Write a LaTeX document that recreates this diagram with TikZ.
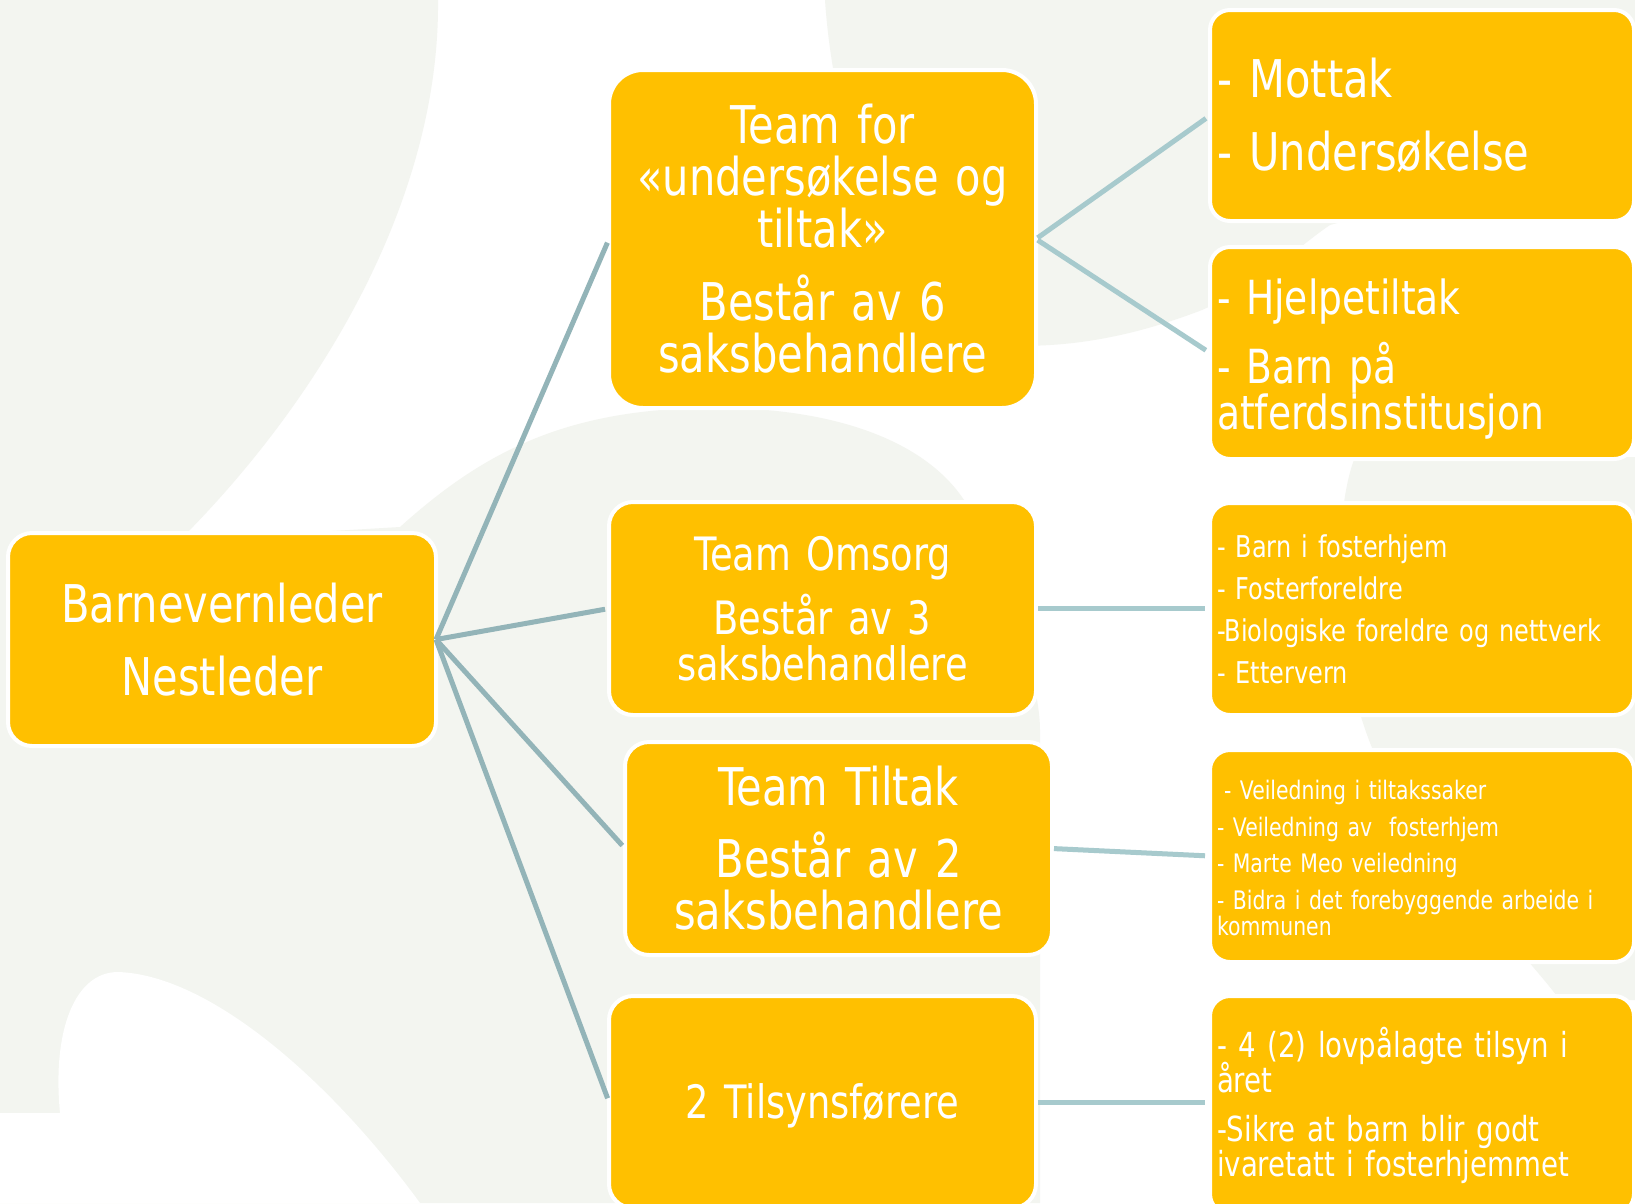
\documentclass[tikz,border=0pt]{standalone}
\usepackage{fontspec}
\setmainfont{DejaVu Sans}[FakeStretch=0.8]
\definecolor{boxyellow}{HTML}{FFC000}
\definecolor{bggray}{HTML}{F3F5F0}
\definecolor{lineL}{HTML}{93B4B8}
\definecolor{lineR}{HTML}{A7CACD}
\tikzset{
  box/.style={rectangle, rounded corners=#1, fill=boxyellow, draw=white,
    line width=4pt, text=white, inner xsep=6pt, inner ysep=0pt, outer sep=0pt,
    execute at begin node={\lineskiplimit=-100pt\lineskip=0pt}},
  box/.default=22pt,
  teambox/.style={box=#1, align=center, minimum width=427pt, text width=412pt},
  teambox/.default=24pt,
  infobox/.style={box=20pt, align=left, minimum width=424pt, text width=410pt},
  leftline/.style={draw=lineL, line width=5pt, shorten >=4pt},
  rightline/.style={draw=lineR, line width=5pt, shorten <=2pt, shorten >=5pt},
}
\begin{document}
\begin{tikzpicture}[x=1pt,y=-1pt]
\useasboundingbox (0,0) rectangle (1635,1203);
% background
\fill[white] (0,0) rectangle (1635,1203);
\fill[bggray] (0,0) -- (438,0) .. controls (440,200) and (320,400) .. (180,540) -- (0,540) -- cycle;
\fill[bggray] (0,540) -- (180,540) -- (400,527) .. controls (480,455) and (560,411) .. (700,408)
  .. controls (840,405) and (935,445) .. (970,510) .. controls (1005,580) and (1040,680) .. (1040,730)
  -- (1040,1203) -- (0,1203) -- cycle;
\fill[white] (0,1113) -- (60,1113) .. controls (52,1030) and (75,972) .. (118,972)
  .. controls (210,975) and (330,1080) .. (420,1203) -- (0,1203) -- cycle;
\fill[bggray] (825,0) .. controls (835,150) and (900,330) .. (1000,345)
  .. controls (1080,350) and (1150,330) .. (1202,310)
  .. controls (1260,285) and (1300,245) .. (1330,225)
  .. controls (1420,200) and (1530,190) .. (1635,190) -- (1635,0) -- cycle;
\fill[bggray] (1355,457) .. controls (1330,520) and (1330,700) .. (1400,800)
  .. controls (1470,900) and (1530,960) .. (1560,1000) -- (1635,1000) -- (1635,457) -- cycle;

% left node
\node[teambox=24pt, minimum width=428pt, minimum height=213pt, font=\fontsize{52}{73}\selectfont]
  (lead) at (222,639.5) {Barnevernleder\\Nestleder};

% teams
\node[teambox=34pt, minimum height=338pt, font=\fontsize{52}{52}\selectfont]
  (t1) at (822.5,239) {Team for\\«undersøkelse og\\tiltak»\\[21pt]Består av 6\\saksbehandlere};
\node[teambox, minimum height=213pt, font=\fontsize{46}{46}\selectfont]
  (t2) at (822.5,608.5) {Team Omsorg\\[18pt]Består av 3\\saksbehandlere};
\node[teambox, minimum height=213pt, font=\fontsize{52}{52}\selectfont]
  (t3) at (838.5,848.5) {Team Tiltak\\[20pt]Består av 2\\saksbehandlere};
\node[teambox, minimum height=212pt, font=\fontsize{46}{46}\selectfont]
  (t4) at (822.5,1102) {\rule{0pt}{43pt}2 Tilsynsførere};

% info boxes
\node[infobox, minimum height=211pt, font=\fontsize{52}{73}\selectfont]
  (r1) at (1422,115.5) {- Mottak\\- Undersøkelse};
\node[infobox, minimum height=212pt, font=\fontsize{47}{46}\selectfont]
  (r2) at (1422,353) {\rule{0pt}{48pt}- Hjelpetiltak\\[23pt]- Barn på\\atferdsinstitusjon};
\node[infobox, minimum height=212pt, font=\fontsize{30}{42}\selectfont]
  (r3) at (1422,609) {- Barn i fosterhjem\\- Fosterforeldre\\-Biologiske foreldre og nettverk\\- Ettervern};
\node[infobox, minimum height=212pt, font=\fontsize{25.5}{26}\selectfont]
  (r4) at (1422,856) {\rule{0pt}{23.5pt}\hspace*{7pt}- Veiledning i tiltakssaker\\[10.5pt]- Veiledning av\ \ fosterhjem\\[10.5pt]- Marte Meo veiledning\\[10.5pt]- Bidra i det forebyggende arbeide i\\kommunen};
\node[infobox, minimum height=218pt, font=\fontsize{34.5}{35}\selectfont]
  (r5) at (1422,1105) {\rule{0pt}{30pt}- 4 (2) lovpålagte tilsyn i\\året\\[14pt]-Sikre at barn blir godt\\ivaretatt i fosterhjemmet};

% connectors
\draw[leftline] (lead.east) -- (t1.west);
\draw[leftline] (lead.east) -- (t2.west);
\draw[leftline] (lead.east) -- (t3.west);
\draw[leftline] (lead.east) -- (t4.west);
\draw[rightline] (t1.east) -- (r1.west);
\draw[rightline] (t1.east) -- (r2.west);
\draw[rightline] (t2.east) -- (t2.east -| r3.west);
\draw[rightline] (t3.east) -- (r4.west);
\draw[rightline] (t4.east) -- (t4.east -| r5.west);
\end{tikzpicture}
\end{document}
